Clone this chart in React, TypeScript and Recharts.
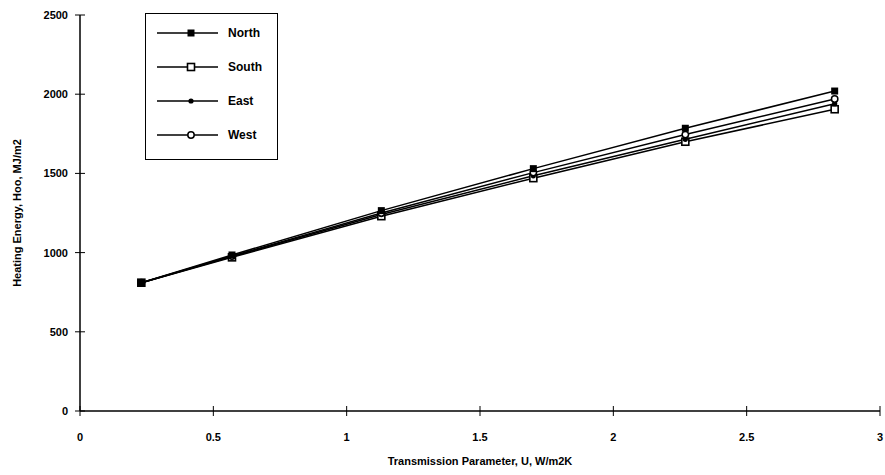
import React from "react";
import { LineChart, Line, XAxis, YAxis } from "recharts";

// Transmission parameter U (W/m2K)
const uValues = [0.23, 0.57, 1.13, 1.7, 2.27, 2.83];
// Heating energy Hoo (MJ/m2) by facade orientation
const north = [810, 985, 1265, 1530, 1785, 2020];
const south = [810, 970, 1230, 1470, 1700, 1905];
const east = [810, 975, 1240, 1485, 1715, 1940];
const west = [810, 978, 1250, 1505, 1745, 1970];

const xTicks = [0, 0.5, 1, 1.5, 2, 2.5, 3];
const yTicks = [0, 500, 1000, 1500, 2000, 2500];

const seriesNames = ["North", "South", "East", "West"];

const data = uValues.map((u, i) => ({
  u,
  North: north[i],
  South: south[i],
  East: east[i],
  West: west[i],
}));

const FONT = "'Liberation Sans', Arial, sans-serif";
const PLOT_LEFT = 80;
const PLOT_BOTTOM = 411;

type MarkerKind = "North" | "South" | "East" | "West";

function Marker({ kind, cx, cy }: { kind: MarkerKind; cx: number; cy: number }) {
  if (cx == null || cy == null) return null;
  switch (kind) {
    case "North":
      return <rect x={cx - 3.5} y={cy - 3.5} width={7} height={7} fill="#000" />;
    case "South":
      return (
        <rect x={cx - 3.5} y={cy - 3.5} width={7} height={7} fill="#fff" stroke="#000" strokeWidth={1.6} />
      );
    case "East":
      return <circle cx={cx} cy={cy} r={2.6} fill="#000" />;
    default:
      return <circle cx={cx} cy={cy} r={3.2} fill="#fff" stroke="#000" strokeWidth={1.5} />;
  }
}

const makeDot = (kind: MarkerKind) => (props: any) =>
  <Marker key={`${kind}-${props.index}`} kind={kind} cx={props.cx} cy={props.cy} />;

const XTick = (props: any) => {
  const { payload } = props;
  const x = payload.coordinate;
  return (
    <g>
      <line x1={x} x2={x} y1={PLOT_BOTTOM - 5} y2={PLOT_BOTTOM + 5} stroke="#000" strokeWidth={1} />
      <text x={x} y={PLOT_BOTTOM + 30} textAnchor="middle" fontFamily={FONT} fontWeight="bold" fontSize={11} fill="#000">
        {payload.value}
      </text>
    </g>
  );
};

const YTick = (props: any) => {
  const { payload } = props;
  const y = payload.coordinate;
  return (
    <g>
      <line x1={PLOT_LEFT - 5} x2={PLOT_LEFT + 5} y1={y} y2={y} stroke="#000" strokeWidth={1} />
      <text x={PLOT_LEFT - 12} y={y + 4} textAnchor="end" fontFamily={FONT} fontWeight="bold" fontSize={11} fill="#000">
        {payload.value}
      </text>
    </g>
  );
};

const LegendBox = () => (
  <div
    style={{
      position: "absolute",
      left: 145,
      top: 13,
      width: 133,
      height: 147,
      border: "1.5px solid #000",
      background: "#fff",
      boxSizing: "border-box",
    }}
  >
    <svg width={130} height={144} style={{ display: "block" }}>
      {seriesNames.map((name, i) => {
        const y = 19 + i * 34;
        return (
          <g key={name}>
            <line x1={11} x2={72} y1={y} y2={y} stroke="#000" strokeWidth={1.5} />
            <Marker kind={name as MarkerKind} cx={45} cy={y} />
            <text x={82} y={y + 4} fontFamily={FONT} fontWeight="bold" fontSize={12} fill="#000">
              {name}
            </text>
          </g>
        );
      })}
    </svg>
  </div>
);

export default function App() {
  return (
    <div style={{ position: "absolute", left: 0, top: 0, width: 885, height: 475, background: "#fff" }}>
      <LineChart
        width={885}
        height={475}
        data={data}
        margin={{ top: 15, right: 5, bottom: 24, left: 20 }}
      >
        <XAxis
          dataKey="u"
          type="number"
          domain={[0, 3]}
          ticks={xTicks}
          tick={<XTick />}
          tickLine={false}
          axisLine={{ stroke: "#000", strokeWidth: 1.5 }}
          height={40}
          interval={0}
          label={{
            value: "Transmission Parameter, U, W/m2K",
            position: "insideBottom",
            offset: -14,
            style: { fontFamily: FONT, fontWeight: "bold", fontSize: 11, fill: "#000" },
          }}
        />
        <YAxis
          type="number"
          domain={[0, 2500]}
          ticks={yTicks}
          tick={<YTick />}
          tickLine={false}
          axisLine={{ stroke: "#000", strokeWidth: 1.5 }}
          width={60}
          interval={0}
          label={{
            value: "Heating Energy, Hoo, MJ/m2",
            angle: -90,
            position: "insideLeft",
            offset: -3,
            style: { textAnchor: "middle", fontFamily: FONT, fontWeight: "bold", fontSize: 11, fill: "#000" },
          }}
        />
        <Line dataKey="South" stroke="#000" strokeWidth={1.5} dot={makeDot("South")} isAnimationActive={false} />
        <Line dataKey="East" stroke="#000" strokeWidth={1.5} dot={makeDot("East")} isAnimationActive={false} />
        <Line dataKey="West" stroke="#000" strokeWidth={1.5} dot={makeDot("West")} isAnimationActive={false} />
        <Line dataKey="North" stroke="#000" strokeWidth={1.5} dot={makeDot("North")} isAnimationActive={false} />
      </LineChart>
      <LegendBox />
    </div>
  );
}
